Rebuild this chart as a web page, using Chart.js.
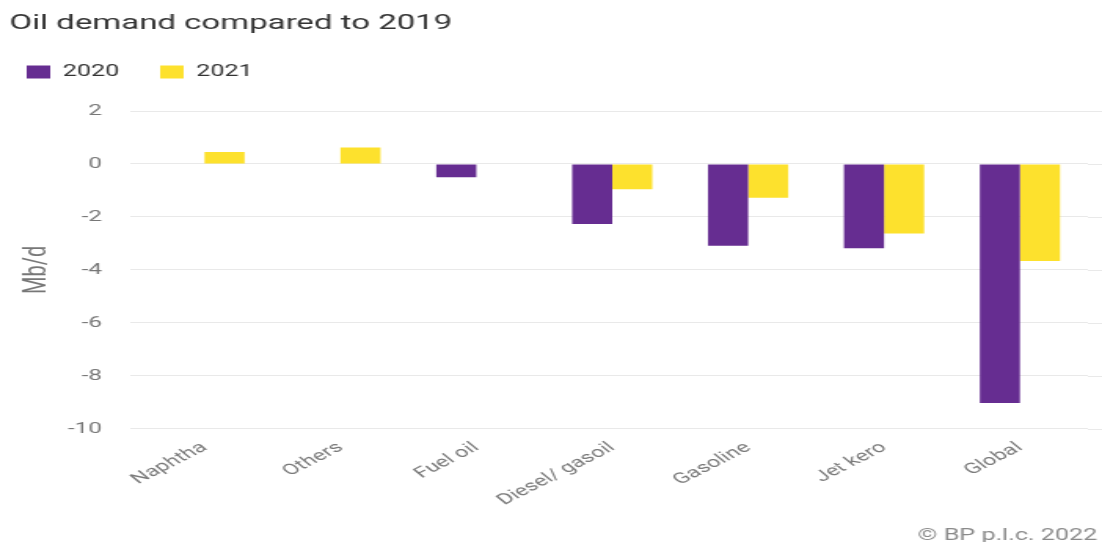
<!DOCTYPE html>
<html>
<head>
<meta charset="utf-8">
<title>Oil demand compared to 2019</title>
<script src="https://cdn.jsdelivr.net/npm/chart.js"></script>
<style>
  html, body { margin: 0; padding: 0; background: #ffffff; overflow: hidden; }
  #wrap { width: 1102px; height: 542px; position: relative; }
  /* the chart is laid out on a narrower canvas and widened to the page */
  #chart { position: absolute; left: 0; top: 0; transform-origin: 0 0; transform: scaleX(1.5698); }
</style>
</head>
<body>
<div id="wrap"><canvas id="chart" width="702" height="542"></canvas></div>
<script>
// Oil demand change versus 2019, million barrels per day
const categories = ['Naphtha', 'Others', 'Fuel oil', 'Diesel/ gasoil', 'Gasoline', 'Jet kero', 'Global'];
const demand2020 = [null, null, -0.5, -2.27, -3.09, -3.18, -9.03];
const demand2021 = [0.45, 0.62, null, -0.95, -1.28, -2.63, -3.66];
const yTickValues = [2, 0, -2, -4, -6, -8, -10];

const titleText = 'Oil demand compared to 2019';
const footerText = '\u00A9 BP p.l.c. 2022';
const gridColor = '#e9e9e9';

Chart.defaults.font.family = 'Roboto, "Noto Sans", sans-serif';

// nudges the title, legend and footer blocks and carries grid lines to the edge
const layoutTweaks = {
  id: 'layoutTweaks',
  afterLayout(chart) {
    const lift = 21;
    if (chart.titleBlock) {
      chart.titleBlock.left = 6;
      chart.titleBlock.top -= lift;
      chart.titleBlock.bottom -= lift;
    }
    if (chart.legend) {
      chart.legend.left = -9;
      chart.legend.top -= lift;
      chart.legend.bottom -= lift;
    }
    chart.boxes.forEach(b => {
      if (b.position === 'bottom' && b.options && b.options.text === footerText) {
        b.right = chart.width - 3;
        b.top += 5;
        b.bottom += 5;
      }
    });
  },
  beforeDatasetsDraw(chart) {
    const y = chart.scales.y;
    const ctx = chart.ctx;
    ctx.save();
    ctx.strokeStyle = gridColor;
    ctx.lineWidth = 1;
    y.ticks.forEach((t, i) => {
      const py = Math.round(y.getPixelForTick(i)) + 0.5;
      ctx.beginPath();
      ctx.moveTo(chart.chartArea.right, py);
      ctx.lineTo(chart.width, py);
      ctx.stroke();
    });
    ctx.restore();
  }
};

new Chart(document.getElementById('chart'), {
  type: 'bar',
  data: {
    labels: categories,
    datasets: [
      { label: '2020', data: demand2020, backgroundColor: '#662D91', borderWidth: 0 },
      { label: '2021', data: demand2021, backgroundColor: '#FDE12D', borderWidth: 0 }
    ]
  },
  options: {
    responsive: false,
    animation: false,
    devicePixelRatio: 1,
    layout: { padding: { left: 0, right: 9, top: 0, bottom: 0 } },
    datasets: { bar: { categoryPercentage: 0.59, barPercentage: 1.0 } },
    plugins: {
      title: {
        display: true,
        text: titleText,
        align: 'start',
        color: '#333333',
        font: { size: 21, weight: 'normal' },
        padding: { top: 11, bottom: 2 }
      },
      legend: {
        display: true,
        position: 'top',
        align: 'start',
        labels: {
          boxWidth: 15,
          boxHeight: 13,
          padding: 26,
          color: '#333333',
          font: { size: 16 }
        }
      },
      subtitle: {
        display: true,
        text: footerText,
        position: 'bottom',
        align: 'end',
        color: '#8a8a8a',
        font: { size: 16, weight: 'normal' },
        padding: { top: 0, bottom: 1 }
      },
      tooltip: { enabled: false }
    },
    scales: {
      x: {
        grid: { display: false, drawTicks: false },
        border: { display: false },
        ticks: {
          color: '#7a7a7a',
          font: { size: 15 },
          minRotation: 38.5,
          maxRotation: 38.5,
          padding: 10,
          autoSkip: false
        },
        afterFit(scale) {
          scale.height = 93;
          scale.paddingLeft = 0;
          scale.paddingRight = 0;
        }
      },
      y: {
        min: -10,
        max: 2,
        afterBuildTicks(scale) {
          scale.ticks = yTickValues.map(v => ({ value: v }));
        },
        grid: { color: gridColor, tickLength: 4, drawTicks: true },
        border: { display: false },
        ticks: { color: '#777777', font: { size: 15.5 }, padding: 18 },
        title: {
          display: true,
          text: 'Mb/d',
          color: '#777777',
          font: { size: 20 },
          padding: { top: 12, bottom: 0 }
        },
        afterFit(scale) {
          scale.width = 87;
          scale.paddingTop = 111;
        }
      }
    }
  },
  plugins: [layoutTweaks]
});
</script>
</body>
</html>
